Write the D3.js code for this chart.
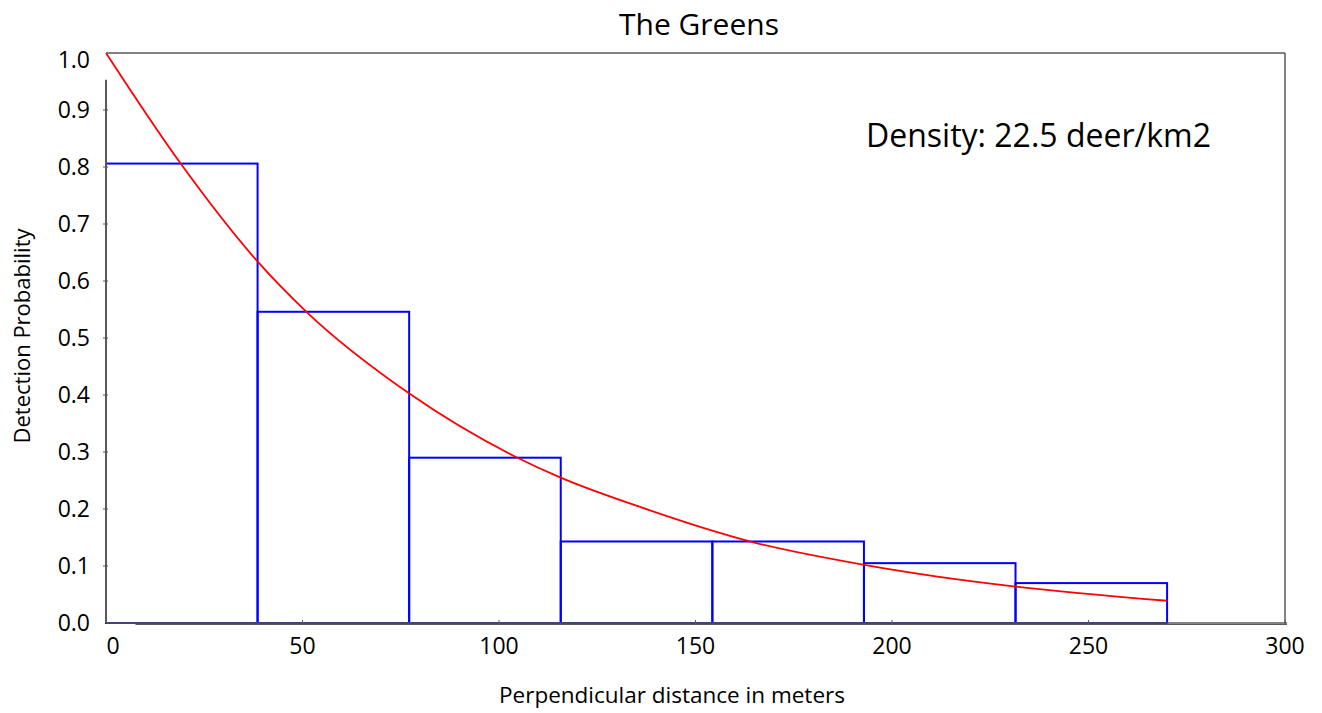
<!DOCTYPE html>
<meta charset="utf-8">
<script src="https://d3js.org/d3.v7.min.js"></script>
<style>
  body { margin: 0; background: #fff; }
  svg text { font-family: "Open Sans", sans-serif; fill: #000; }
</style>
<div id="chart"></div>
<script>

// histogram bins (perpendicular distance, meters) and bar heights
var binEdges = [0, 38.57, 77.14, 115.71, 154.29, 192.86, 231.43, 270];
var binHeights = [0.806, 0.546, 0.290, 0.143, 0.143, 0.105, 0.070];

// fitted detection curve
var curveX = [0, 19, 38.6, 51, 77.1, 104.7, 115.7, 135.7, 164.5, 192.9, 212, 231.4, 270];
var curveY = [1.0, 0.806, 0.634, 0.546, 0.403, 0.290, 0.255, 0.204, 0.142, 0.102, 0.081, 0.064, 0.039];

var xTicks = [0, 50, 100, 150, 200, 250, 300];
var yTicks = [0, 0.1, 0.2, 0.3, 0.4, 0.5, 0.6, 0.7, 0.8, 0.9, 1.0];

var title = "The Greens";
var note = "Density: 22.5 deer/km2";

var W = 1322, H = 713;
var margin = {top: 53, right: 37, bottom: 90, left: 106},
    width = W - margin.left - margin.right,
    height = H - margin.top - margin.bottom;

var svg = d3.select("#chart")
  .append("svg")
    .attr("width", W)
    .attr("height", H);

var g = svg.append("g")
    .attr("transform", "translate(" + margin.left + "," + margin.top + ")");

var x = d3.scaleLinear().domain([0, 300]).range([0, width]);
var y = d3.scaleLinear().domain([0, 1]).range([height, 0]);

// bars (outline only)
var bars = binHeights.map(function(h, i) {
  return {x0: binEdges[i], x1: binEdges[i + 1], h: h};
});
g.selectAll("rect.bar")
  .data(bars)
  .enter().append("rect")
    .attr("class", "bar")
    .attr("x", function(d) { return x(d.x0); })
    .attr("y", function(d) { return y(d.h); })
    .attr("width", function(d) { return x(d.x1) - x(d.x0); })
    .attr("height", function(d) { return y(0) - y(d.h); })
    .attr("fill", "none")
    .attr("stroke", "#0000ff")
    .attr("stroke-width", 2);

// red fitted curve
var pts = curveX.map(function(v, i) { return [v, curveY[i]]; });
g.append("path")
  .datum(pts)
  .attr("fill", "none")
  .attr("stroke", "#ff0000")
  .attr("stroke-width", 1.8)
  .attr("d", d3.line()
    .curve(d3.curveMonotoneX)
    .x(function(d) { return x(d[0]); })
    .y(function(d) { return y(d[1]); }));

// frame
var frameColor = "#595959";
g.append("line")  // top
  .attr("x1", 0).attr("x2", width).attr("y1", 0).attr("y2", 0)
  .attr("stroke", frameColor).attr("stroke-width", 1.5);
g.append("line")  // right
  .attr("x1", width).attr("x2", width).attr("y1", 0).attr("y2", height)
  .attr("stroke", frameColor).attr("stroke-width", 1.5);
g.append("line")  // left axis (starts a bit below the top)
  .attr("x1", 0).attr("x2", 0).attr("y1", y(0.953)).attr("y2", height)
  .attr("stroke", frameColor).attr("stroke-width", 2);
g.append("line")  // bottom axis
  .attr("x1", 0).attr("x2", width + 2).attr("y1", height).attr("y2", height)
  .attr("stroke", frameColor).attr("stroke-width", 1.5);
g.append("line")
  .attr("x1", x(7.5)).attr("x2", width + 2).attr("y1", height + 1.5).attr("y2", height + 1.5)
  .attr("stroke", frameColor).attr("stroke-width", 1);

// y ticks + labels
g.selectAll("line.ytick")
  .data(yTicks.filter(function(d) { return d > 0 && d < 1; }))
  .enter().append("line")
    .attr("x1", -3).attr("x2", 2)
    .attr("y1", function(d) { return y(d); })
    .attr("y2", function(d) { return y(d); })
    .attr("stroke", frameColor);
g.selectAll("text.ylab")
  .data(yTicks)
  .enter().append("text")
    .attr("x", -16)
    .attr("y", function(d) { return y(d) + (d === 1 ? 7 : 0); })
    .attr("dy", "0.35em")
    .attr("text-anchor", "end")
    .style("font-size", "23px")
    .text(function(d) { return d3.format(".1f")(d); });

// x ticks + labels
g.selectAll("line.xtick")
  .data(xTicks.filter(function(d) { return d > 0; }))
  .enter().append("line")
    .attr("x1", function(d) { return x(d); })
    .attr("x2", function(d) { return x(d); })
    .attr("y1", height - 3).attr("y2", height + 2)
    .attr("stroke", frameColor);
g.selectAll("text.xlab")
  .data(xTicks)
  .enter().append("text")
    .attr("x", function(d) { return x(d) + (d === 0 ? 7 : 0); })
    .attr("y", height + 31)
    .attr("text-anchor", "middle")
    .style("font-size", "23px")
    .text(function(d) { return d; });

// title
svg.append("text")
  .attr("x", 699)
  .attr("y", 35)
  .attr("text-anchor", "middle")
  .style("font-size", "30px")
  .text(title);

// density note
svg.append("text")
  .attr("x", 866)
  .attr("y", 147)
  .style("font-size", "32px")
  .text(note);

// axis titles
svg.append("text")
  .attr("x", 672)
  .attr("y", 703)
  .attr("text-anchor", "middle")
  .style("font-size", "22.5px")
  .text("Perpendicular distance in meters");

svg.append("text")
  .attr("transform", "translate(30,336) rotate(-90)")
  .attr("text-anchor", "middle")
  .style("font-size", "22px")
  .text("Detection Probability");

</script>
